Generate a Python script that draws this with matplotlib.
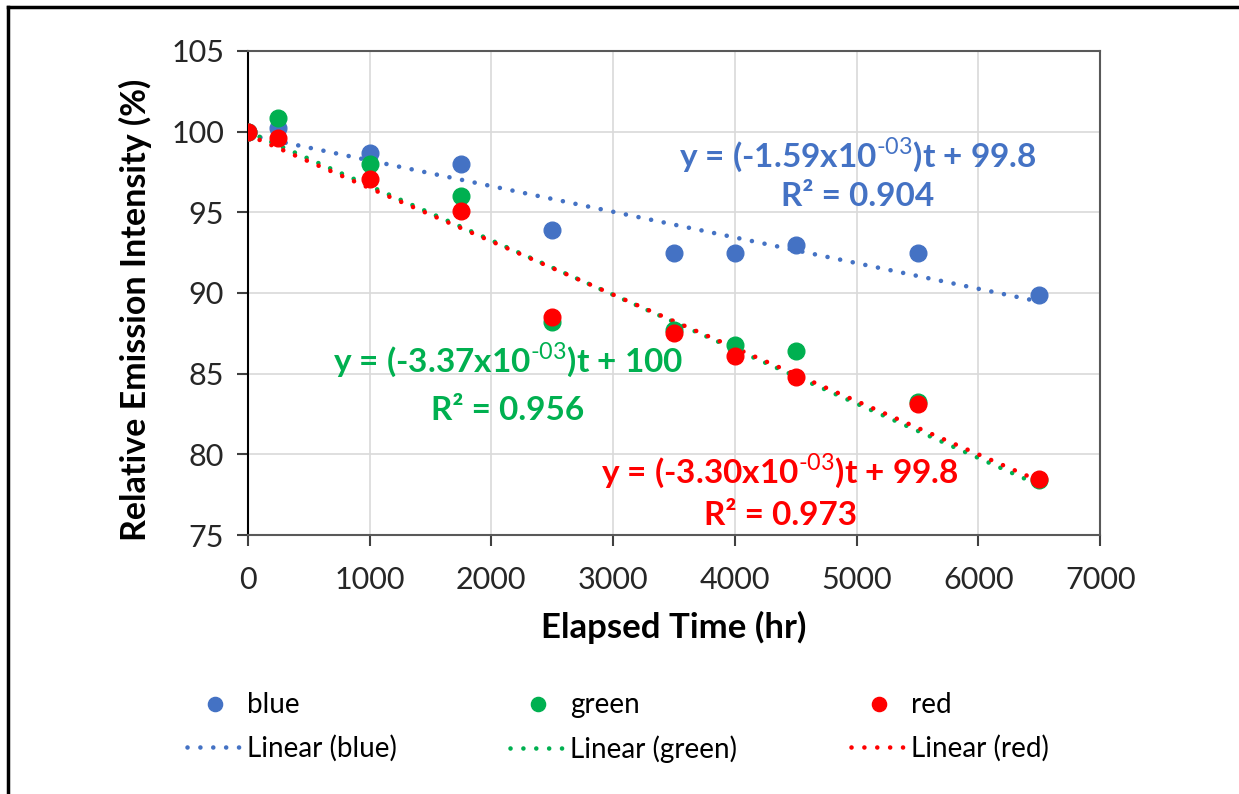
import matplotlib
matplotlib.use("Agg")
from matplotlib import pyplot as plt
from matplotlib.lines import Line2D
import numpy as np

plt.rcParams['font.family'] = ['Lato', 'DejaVu Sans']
plt.rcParams['mathtext.fontset'] = 'custom'
plt.rcParams['mathtext.rm'] = 'Lato'
plt.rcParams['mathtext.bf'] = 'Lato:bold'

# data
hours = [0, 250, 1000, 1750, 2500, 3500, 4000, 4500, 5500, 6500]
blue = [100, 100.2, 98.7, 98.0, 93.9, 92.5, 92.45, 93.0, 92.5, 89.9]
green = [100, 100.85, 98.0, 96.0, 88.2, 87.7, 86.8, 86.4, 83.25, 78.4]
red = [100, 99.6, 97.05, 95.05, 88.5, 87.55, 86.1, 84.8, 83.1, 78.45]

series_names = ["blue", "green", "red"]
series_colors = ["#4472C4", "#00B050", "#FF0000"]
fit_slopes = [-1.59e-3, -3.37e-3, -3.30e-3]
fit_intercepts = [99.8, 100, 99.8]
fit_labels = [r"y = (-1.59x10$^{\text{-03}}$)t + 99.8",
              r"y = (-3.37x10$^{\text{-03}}$)t + 100",
              r"y = (-3.30x10$^{\text{-03}}$)t + 99.8"]
r2_labels = ["R² = 0.904", "R² = 0.956", "R² = 0.973"]
label_pos = [(5010, 98.55, 95.95), (2136, 85.85, 82.75), (4371, 79.0, 76.2)]

fig = plt.figure(figsize=(12.39, 7.94), dpi=100)
ax = fig.add_axes([0.2, 0.326, 0.688, 0.61])

# frame around the figure (only left/top show in the crop)
fig.add_artist(Line2D([0.0065, 0.0065], [0, 0.9915], color="black", lw=2.5, transform=fig.transFigure))
fig.add_artist(Line2D([0.0065, 1.0], [0.9915, 0.9915], color="black", lw=2.5, transform=fig.transFigure))

t_fit = np.array([hours[0], hours[-1]])
handles = []
for name, vals, col, m, b in zip(series_names, [blue, green, red], series_colors,
                                 fit_slopes, fit_intercepts):
    pts, = ax.plot(hours, vals, "o", color=col, markersize=12, zorder=4, label=name)
    ln, = ax.plot(t_fit, m * t_fit + b, color=col, lw=3.3, dashes=(0.01, 2.8),
                  dash_capstyle="round", zorder=3, label="Linear (" + name + ")")
    handles += [pts, ln]

for col, eq, r2, (x, y1, y2) in zip(series_colors, fit_labels, r2_labels, label_pos):
    ax.text(x, y1, eq, color=col, fontsize=24, fontweight="bold", ha="center", va="center")
    ax.text(x, y2, r2, color=col, fontsize=24, fontweight="bold", ha="center", va="center")

ax.set_xlim(0, 7000)
ax.set_ylim(75, 105)
ax.set_xticks(range(0, 7001, 1000))
ax.set_yticks(range(75, 106, 5))
ax.grid(True, color="#d9d9d9", lw=1.2)
ax.set_axisbelow(True)
for s in ["top", "right", "bottom"]:
    ax.spines[s].set_color("#595959")
    ax.spines[s].set_linewidth(1.5)
ax.spines["left"].set_color("black")
ax.spines["left"].set_linewidth(1.5)
ax.tick_params(direction="out", length=8, width=1.5, color="#404040", labelsize=22,
               labelcolor="#262626")
ax.tick_params(axis="x", pad=14)
ax.tick_params(axis="y", pad=9)

ax.set_xlabel("Elapsed Time (hr)", fontsize=25, fontweight="bold", labelpad=12)
ax.set_ylabel("Relative Emission Intensity (%)", fontsize=24.5, fontweight="bold")
ax.yaxis.set_label_coords(-0.112, 0.465)

leg = fig.legend(handles=handles, loc="center", bbox_to_anchor=(0.4985, 0.0837), ncol=3,
                 frameon=False, fontsize=20, handlelength=2.0, columnspacing=4.1,
                 labelspacing=0.6, handletextpad=0.15, markerscale=0.85)

fig.savefig("out.png", dpi=100)
